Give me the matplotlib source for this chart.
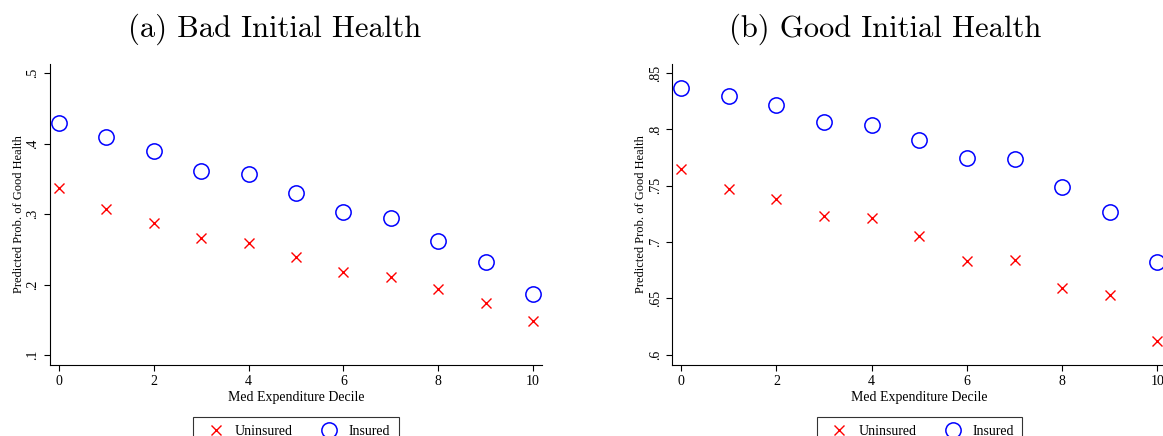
import matplotlib.pyplot as plt
import numpy as np

deciles = np.arange(0, 11)

# (a) bad initial health
bad_uninsured = [0.337, 0.308, 0.287, 0.266, 0.259, 0.239, 0.218, 0.211, 0.194, 0.174, 0.148]
bad_insured = [0.430, 0.409, 0.389, 0.361, 0.357, 0.330, 0.303, 0.294, 0.262, 0.232, 0.187]

# (b) good initial health
good_uninsured = [0.765, 0.747, 0.738, 0.723, 0.721, 0.705, 0.683, 0.684, 0.659, 0.653, 0.612]
good_insured = [0.837, 0.830, 0.822, 0.807, 0.804, 0.791, 0.775, 0.774, 0.749, 0.727, 0.682]

titles = ['(a) Bad Initial Health', '(b) Good Initial Health']
title_x = [0.457, 0.431]
yticks = [[0.1, 0.2, 0.3, 0.4, 0.5], [0.6, 0.65, 0.7, 0.75, 0.8, 0.85]]
yticklabels = [['.1', '.2', '.3', '.4', '.5'], ['.6', '.65', '.7', '.75', '.8', '.85']]
ylims = [(0.086, 0.513), (0.591, 0.858)]

plt.rcParams['font.family'] = ['Liberation Serif', 'DejaVu Serif']

fig = plt.figure(figsize=(11.63, 4.36), dpi=100)
ax1 = fig.add_axes([0.043, 0.163, 0.423, 0.69])
ax2 = fig.add_axes([0.578, 0.163, 0.425, 0.69])

data = [(bad_uninsured, bad_insured), (good_uninsured, good_insured)]
for i, ax in enumerate([ax1, ax2]):
    unins, ins = data[i]
    ax.plot(deciles, unins, linestyle='none', marker='x', color='red',
            markersize=7, markeredgewidth=1.0, label='Uninsured')
    ax.plot(deciles, ins, linestyle='none', marker='o', markerfacecolor='none',
            markeredgecolor='blue', markersize=11, markeredgewidth=1.1, label='Insured')

    ax.set_xlim(-0.19, 10.19)
    ax.set_ylim(*ylims[i])
    ax.set_xticks([0, 2, 4, 6, 8, 10])
    ax.set_yticks(yticks[i])
    ax.set_yticklabels(yticklabels[i], rotation=90, va='center')
    ax.tick_params(labelsize=10, length=4, width=0.8)
    ax.spines['top'].set_visible(False)
    ax.spines['right'].set_visible(False)

    ax.set_xlabel('Med Expenditure Decile', fontsize=10, labelpad=2)
    ax.set_ylabel('Predicted Prob. of Good Health', fontsize=9, labelpad=1)
    ax.set_title(titles[i], fontsize=22, fontfamily='cmr10', pad=20, x=title_x[i])

    leg = ax.legend(loc='upper center', bbox_to_anchor=(0.5, -0.15), ncol=2,
                    fontsize=10, frameon=True, fancybox=False, edgecolor='black',
                    handletextpad=0.4, columnspacing=1.6, borderpad=0.6)
    leg.get_frame().set_linewidth(0.8)

fig.savefig('out.png', dpi=100)
